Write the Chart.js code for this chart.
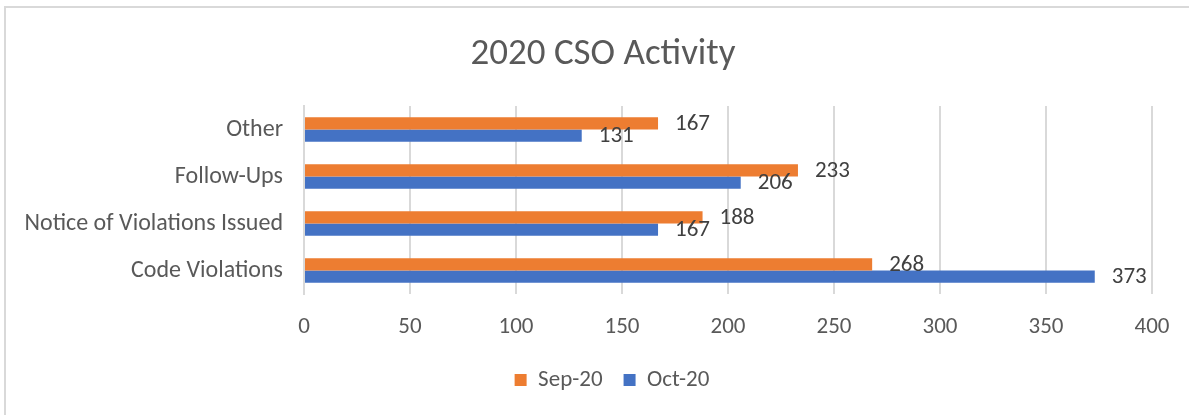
<!DOCTYPE html>
<html>
<head>
<meta charset="utf-8">
<title>2020 CSO Activity</title>
<script src="https://cdn.jsdelivr.net/npm/chart.js@4.4.1/dist/chart.umd.min.js"></script>
<style>
  html, body { margin: 0; padding: 0; background: #fff; overflow: hidden; }
  #frame {
    position: absolute; left: 4px; top: 6px; width: 1300px; height: 500px;
    border: 2px solid #d9d9d9; box-sizing: border-box;
  }
  #wrap { position: absolute; left: 0; top: 0; width: 1189px; height: 415px; }
</style>
</head>
<body>
<div id="frame"></div>
<div id="wrap"><canvas id="chart" width="1189" height="415"></canvas></div>
<script>
// chart data
const categories = ["Other", "Follow-Ups", "Notice of Violations Issued", "Code Violations"];
const seriesNames = ["Sep-20", "Oct-20"];
const sepValues = [167, 233, 188, 268];
const octValues = [131, 206, 167, 373];
const xTicks = [0, 50, 100, 150, 200, 250, 300, 350, 400];

const FONT = "Carlito, Calibri, 'Open Sans', sans-serif";

// To write the value next to the end of every bar
const barLabels = {
    id: 'barLabels',
    afterDatasetsDraw(chart) {
        const ctx = chart.ctx;
        ctx.save();
        ctx.font = "23px " + FONT;
        ctx.fillStyle = "#404040";
        ctx.textAlign = "left";
        ctx.textBaseline = "middle";
        chart.data.datasets.forEach((ds, i) => {
            chart.getDatasetMeta(i).data.forEach((bar, j) => {
                ctx.fillText(ds.data[j], bar.x + 17, bar.y + 1);
            });
        });
        ctx.restore();
    }
};

// To nudge the title and legend a bit right, as in the original
const boxShift = {
    id: 'boxShift',
    afterLayout(chart) {
        chart.legend.left += 36;
        chart.legend.right += 36;
        chart.titleBlock.left += 27;
        chart.titleBlock.right += 27;
    }
};

Chart.defaults.font.family = FONT;
Chart.defaults.color = "#595959";

new Chart(document.getElementById('chart'), {
    type: 'bar',
    data: {
        labels: categories,
        datasets: [{
            label: seriesNames[0],
            data: sepValues,
            backgroundColor: '#ED7D31',
            categoryPercentage: 0.52,
            barPercentage: 1.0
        }, {
            label: seriesNames[1],
            data: octValues,
            backgroundColor: '#4472C4',
            categoryPercentage: 0.52,
            barPercentage: 1.0
        }]
    },
    options: {
        indexAxis: 'y',
        responsive: false,
        animation: false,
        layout: { padding: { left: 0, right: 37, top: 0, bottom: 13.5 } },
        scales: {
            x: {
                min: 0,
                max: 400,
                afterBuildTicks: (scale) => { scale.ticks = xTicks.map(v => ({ value: v })); },
                afterFit: (scale) => { scale.height = 53.5; },
                grid: { color: '#d9d9d9', lineWidth: 2, drawTicks: false },
                border: { display: false },
                ticks: { font: { size: 23 }, color: '#595959', padding: 19 }
            },
            y: {
                afterFit: (scale) => { scale.width = 304; },
                grid: { display: false, drawTicks: false },
                border: { display: true, color: '#d9d9d9', width: 2 },
                ticks: { font: { size: 24 }, color: '#595959', padding: 21 }
            }
        },
        plugins: {
            title: {
                display: true,
                text: '2020 CSO Activity',
                color: '#595959',
                font: { size: 37, weight: 'normal' },
                padding: { top: 32.4, bottom: 29.2 }
            },
            legend: {
                position: 'bottom',
                labels: {
                    boxWidth: 12,
                    boxHeight: 12,
                    padding: 21,
                    color: '#595959',
                    font: { size: 23 }
                }
            },
            tooltip: { enabled: false }
        }
    },
    plugins: [barLabels, boxShift]
});
</script>
</body>
</html>
